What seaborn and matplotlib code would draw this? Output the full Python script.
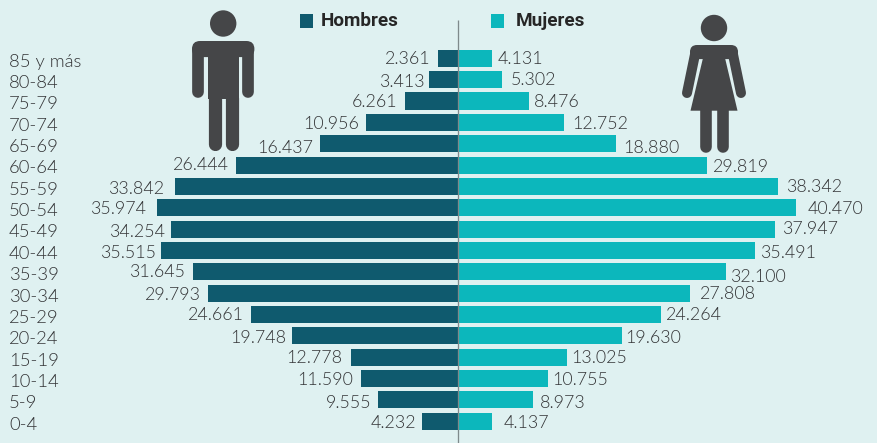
import numpy as np
import pandas as pd
import matplotlib
matplotlib.use("Agg")
import matplotlib.pyplot as plt
from matplotlib.patches import Circle, Rectangle, Polygon, FancyBboxPatch
from matplotlib.transforms import ScaledTranslation
from matplotlib.font_manager import fontManager
import seaborn as sns

edades = ["85 y más", "80-84", "75-79", "70-74", "65-69", "60-64", "55-59", "50-54", "45-49",
          "40-44", "35-39", "30-34", "25-29", "20-24", "15-19", "10-14", "5-9", "0-4"]
hombres = [2361, 3413, 6261, 10956, 16437, 26444, 33842, 35974, 34254,
           35515, 31645, 29793, 24661, 19748, 12778, 11590, 9555, 4232]
mujeres = [4131, 5302, 8476, 12752, 18880, 29819, 38342, 40470, 37947,
           35491, 32100, 27808, 24264, 19630, 13025, 10755, 8973, 4137]

# hand-placed label nudges of the original layout (pixels)
gap_h = [7, 4, 8, 7, 7, 7, 10, 11, 6, 5, 8, 7, 7, 6, 8, 8, 6, 6]
gap_m = [5, 9, 5, 8, 8, 6, 8, 11, 7, 5, 4, 10, 5, 3, 5, 5, 7, 11]
dy_h = [0, 1, 0, 1, 3, -1, 2, 0, 2, 2, -1, 1, 0, 1, 0, 0, 2, 1]
dy_m = [0, -1, 0, 1, 3, 1, 0, 0, -1, 2, 4, 0, 0, 1, 0, 0, 2, 1]

BG = "#dff1f1"
C_H = "#0f5a6e"
C_M = "#0cb7bc"
INK = "#343537"
ICON = "#454648"
PX = 0.72  # points per pixel at dpi 100

sns.set_theme(style="white", rc={"figure.facecolor": BG, "axes.facecolor": BG})
plt.rcParams["font.family"] = ["Lato", "DejaVu Sans"]
plt.rcParams["font.weight"] = 300
names = {f.name for f in fontManager.ttflist}
head_font = ["Liberation Sans Narrow", "Roboto", "DejaVu Sans"] if "Liberation Sans Narrow" in names else ["Roboto", "DejaVu Sans"]

fig = plt.figure(figsize=(8.77, 4.43), dpi=100, facecolor=BG)
ax = fig.add_axes([0, 0, 1, 1])

df = pd.DataFrame({"edad": edades, "h": -np.array(hombres), "m": mujeres})
sns.barplot(data=df, x="h", y="edad", order=edades, color=C_H, saturation=1, width=0.8, linewidth=0, ax=ax)
sns.barplot(data=df, x="m", y="edad", order=edades, color=C_M, saturation=1, width=0.8, linewidth=0, ax=ax)

scale = 338.6 / 40470        # pixels per person
pitch = 21.35                # pixels per row
centre = 457.7
ax.set_xlim(-centre / scale, (877 - centre) / scale)
ax.set_ylim((443 - 58.3) / pitch, -58.3 / pitch)
ax.set_xlabel("")
ax.set_ylabel("")
ax.set_xticks([])
ax.set_yticks(range(len(edades)))
ax.set_yticklabels(edades)
ax.tick_params(axis="y", length=0, pad=-9 * PX, labelsize=13.3, labelcolor=INK)
shift = ScaledTranslation(0, -3.4 * PX / 72, fig.dpi_scale_trans)
for lab in ax.get_yticklabels():
    lab.set_ha("left")
    lab.set_va("center")
    lab.set_transform(lab.get_transform() + shift)
for s in ax.spines.values():
    s.set_visible(False)


def fmt(v):
    return f"{v:,}".replace(",", ".")


for i, (vh, vm) in enumerate(zip(hombres, mujeres)):
    ax.annotate(fmt(vh), (-vh, i), xytext=(-gap_h[i] * PX, -(dy_h[i] + 1) * PX), textcoords="offset points",
                ha="right", va="center", fontsize=12.9, color=INK)
    ax.annotate(fmt(vm), (vm, i), xytext=(gap_m[i] * PX, -(dy_m[i] + 1) * PX), textcoords="offset points",
                ha="left", va="center", fontsize=12.9, color=INK)

# overlay in pixel coordinates: centre rule, legend, pictograms
ov = fig.add_axes([0, 0, 1, 1], facecolor="none")
ov.set_xlim(0, 877)
ov.set_ylim(443, 0)
ov.axis("off")

ov.plot([458, 458], [20, 443], color="#7f8a8c", lw=1.3 * PX, solid_capstyle="butt")

ov.add_patch(Rectangle((300, 14), 13, 14, fc=C_H, ec="none"))
ov.add_patch(Rectangle((491, 14), 13, 14, fc=C_M, ec="none"))
ov.text(321, 21, "Hombres", fontsize=13.6, fontweight="bold", color="#262626", va="center", ha="left", family=head_font)
ov.text(515.5, 21, "Mujeres", fontsize=13.6, fontweight="bold", color="#262626", va="center", ha="left", family=head_font)


def limb(x0, y0, x1, y1, w):
    ov.plot([x0, x1], [y0, y1], color=ICON, lw=w * PX, solid_capstyle="round")


# man
ov.add_patch(Circle((223.2, 23.5), 13.2, fc=ICON, ec="none"))
ov.add_patch(FancyBboxPatch((200, 49), 46.4, 0.1, boxstyle="round,pad=8,rounding_size=8", fc=ICON, ec="none"))
ov.add_patch(Rectangle((208, 45), 30.7, 54, fc=ICON, ec="none"))
limb(198, 50, 198, 91.5, 11.7)
limb(248.2, 50, 248.2, 91.5, 11.7)
limb(214.7, 98, 214.7, 143.5, 13.2)
limb(232, 98, 232, 143.5, 13.2)

# woman
ov.add_patch(Circle((714, 28), 13.2, fc=ICON, ec="none"))
ov.add_patch(FancyBboxPatch((697, 52), 34, 0.1, boxstyle="round,pad=7,rounding_size=7", fc=ICON, ec="none"))
ov.add_patch(Polygon([(703.5, 50), (724.5, 50), (725, 58), (737.5, 110.7), (690.5, 110.7), (703, 58)], fc=ICON, ec="none"))
limb(695.5, 52, 687, 93, 10)
limb(732.5, 52, 741, 93, 10)
limb(705.8, 108, 705.8, 147, 11.6)
limb(722.5, 108, 722.5, 147, 11.6)

fig.savefig("out.png", dpi=100, facecolor=BG)
